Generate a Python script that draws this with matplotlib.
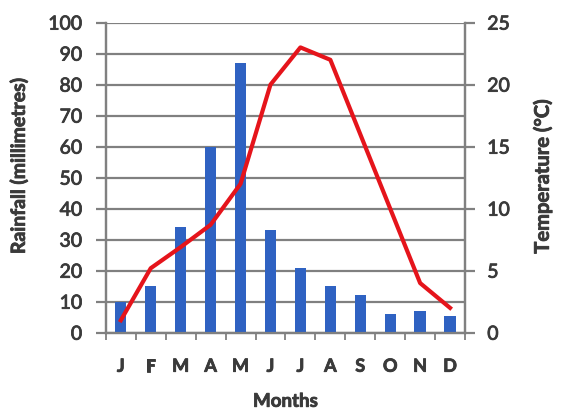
import numpy as np
import matplotlib
matplotlib.use('Agg')
from matplotlib import pyplot as plt
import matplotlib.patheffects as pe

# chart data
months = ['J', 'F', 'M', 'A', 'M', 'J', 'J', 'A', 'S', 'O', 'N', 'D']
rainfall = [10, 15, 34, 60, 87, 33, 21, 15, 12, 6, 7, 5.5]
temperature = [1, 5.2, 6.9, 8.7, 12, 20, 23, 22, 16, 10, 4, 2]
rain_ticks = list(range(0, 101, 10))
temp_ticks = list(range(0, 26, 5))

plt.rcParams['font.family'] = ['Lato', 'DejaVu Sans']
grey = '#808080'
text_col = '#3a3a3a'
heavy = [pe.withStroke(linewidth=0.6, foreground=text_col)]

fig = plt.figure(figsize=(5.63, 4.11), dpi=100)
ax = fig.add_axes([0.188, 0.1905, 0.638, 0.7545])
x = np.arange(len(months))

ax.bar(x, rainfall, width=0.38, color='#2f62c2', zorder=3)
ax.set_xlim(-0.5, len(months) - 0.5)
ax.set_ylim(0, 100)
ax.set_yticks(rain_ticks)
ax.yaxis.grid(True, color=grey, linewidth=1.6, zorder=0)
ax.set_xticks(x)
ax.set_xticklabels(months, fontweight='bold')
ax.set_xticks(np.arange(-0.5, len(months)), minor=True)
ax.tick_params(axis='x', which='major', length=0, pad=18, labelsize=13, labelcolor=text_col)
ax.tick_params(axis='x', which='minor', length=5, color=grey, width=1.3)
ax.tick_params(axis='y', length=7, color=grey, width=1.6, labelsize=14,
               labelcolor=text_col, pad=10)
for s in ax.spines.values():
    s.set_color(grey)
    s.set_linewidth(1.6)
ax.spines['top'].set_visible(False)
ax.set_xlabel('Months', fontweight='bold', fontsize=13.5, color=text_col, labelpad=13)
ax.set_ylabel('Rainfall (millimetres)', fontweight='bold', fontsize=14, color=text_col)
ax.yaxis.set_label_coords(-0.217, 0.54)

ax2 = ax.twinx()
ax2.plot(x, temperature, color='#e5141b', linewidth=3, zorder=4)
ax2.set_ylim(0, 25)
ax2.set_yticks(temp_ticks)
ax2.tick_params(axis='y', length=7, color=grey, width=1.6, labelsize=14,
                labelcolor=text_col, pad=9)
for s in ax2.spines.values():
    s.set_color(grey)
    s.set_linewidth(1.6)
ax2.spines['top'].set_visible(False)
ax2.set_ylabel('Temperature (°C)', fontweight='bold', fontsize=14.5, color=text_col)
ax2.yaxis.set_label_coords(1.187, 0.504)

texts = (ax.get_xticklabels() + ax.get_yticklabels() + ax2.get_yticklabels()
         + [ax.xaxis.label, ax.yaxis.label, ax2.yaxis.label])
for t in texts:
    t.set_path_effects(heavy)

fig.savefig('out.png', dpi=100)
